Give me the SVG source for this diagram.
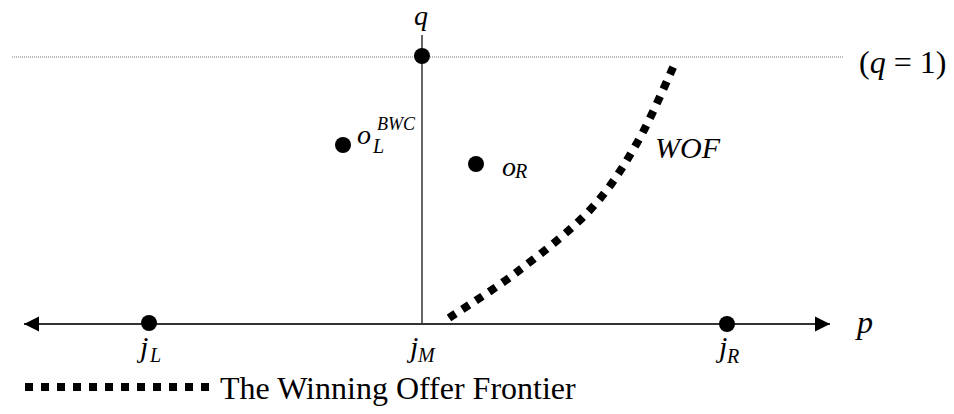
<svg xmlns="http://www.w3.org/2000/svg" width="954" height="414" viewBox="0 0 954 414">
<style>
.t{font-family:"Liberation Serif","Times New Roman",serif;fill:#000}
.i{font-style:italic}
.big{font-size:30px}
.sub{font-size:20px}
.sup{font-size:18px}
.dot{fill:#000}
.axis{stroke:#333;stroke-width:2;fill:none}
.wof{stroke:#000;stroke-width:8;stroke-dasharray:8 8;fill:none}
</style>
<defs>
<marker id="arr" markerUnits="userSpaceOnUse" markerWidth="16" markerHeight="16" refX="15" refY="7.5" orient="auto-start-reverse" viewBox="0 0 16 15">
<path d="M0,0 L15,7.5 L0,15 Z" fill="#000"/>
</marker>
</defs>
<rect width="954" height="414" fill="#fff"/>
<g id="connectors">
<line x1="12" y1="57" x2="844" y2="57" stroke="#777" stroke-width="1" stroke-dasharray="1 1"/>
<line x1="422" y1="35" x2="422" y2="324" stroke="#333" stroke-width="1.5"/>
<line class="axis" x1="24" y1="324" x2="830" y2="324" marker-start="url(#arr)" marker-end="url(#arr)"/>
<path id="wof-curve" class="wof" d="M449,318 C460.3,310.3 493.5,290 517,272 C540.5,254 570,231.5 590,210 C610,188.5 622.7,167.8 637,143 C651.3,118.2 669.5,74.7 676,61"/>
</g>
<g id="node-q1">
<circle class="dot" cx="422" cy="56" r="8"/>
<text class="t i" x="421" y="25" font-size="28" text-anchor="middle">q</text>
</g>
<g id="node-q-eq-1">
<text class="t" x="859" y="73" font-size="32">(<tspan font-style="italic">q</tspan> = 1)</text>
</g>
<g id="node-oL">
<circle class="dot" cx="343" cy="145" r="8"/>
<text class="t i" x="357" y="144" font-size="28">o</text>
<text class="t i sup" x="377" y="130">BWC</text>
<text class="t i sub" x="373" y="153">L</text>
</g>
<g id="node-oR">
<circle class="dot" cx="476" cy="164" r="8"/>
<text class="t i" x="502" y="176" font-size="28">o</text>
<text class="t i sub" x="515" y="178">R</text>
</g>
<g id="node-WOF">
<text class="t i big" x="655" y="158">WOF</text>
</g>
<g id="node-jL">
<circle class="dot" cx="149" cy="323" r="8"/>
<text class="t i big" x="140" y="357">j</text>
<text class="t i sub" x="150" y="362">L</text>
</g>
<g id="node-jM">
<text class="t i big" x="410" y="357">j</text>
<text class="t i sub" x="418" y="362">M</text>
</g>
<g id="node-jR">
<circle class="dot" cx="727" cy="324" r="8"/>
<text class="t i big" x="719" y="357">j</text>
<text class="t i sub" x="727" y="363">R</text>
</g>
<g id="node-p">
<text class="t i" x="857" y="333" font-size="32">p</text>
</g>
<g id="legend">
<line class="wof" x1="25" y1="387" x2="209" y2="387" stroke-width="7"/>
<text class="t" x="220" y="399" font-size="32">The Winning Offer Frontier</text>
</g>
</svg>
